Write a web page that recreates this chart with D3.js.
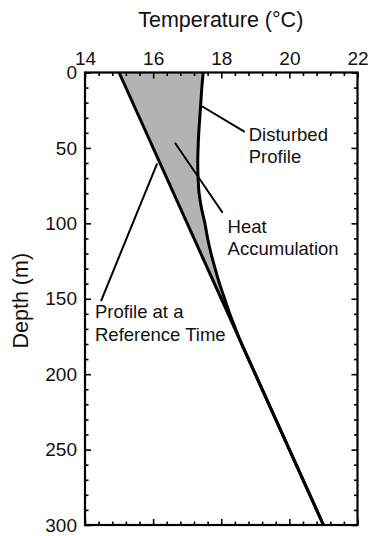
<!DOCTYPE html>
<html>
<head>
<meta charset="utf-8">
<script src="https://cdn.jsdelivr.net/npm/d3@7"></script>
<style>
  html, body { margin: 0; padding: 0; background: #fff; }
  svg { display: block; font-family: "Liberation Sans", Arial, Helvetica, sans-serif; }
</style>
</head>
<body>
<svg id="chart" width="371" height="536"></svg>
<script>
// Depth (m) at which each profile temperature is sampled
const depths = [0, 10, 20, 30, 40, 50, 60, 70, 80, 90, 100, 110, 120, 130, 140, 150, 160, 170, 180, 190, 200, 250, 300];
// Present-day (disturbed) temperature profile, °C
const disturbedTemps = [17.47, 17.43, 17.40, 17.37, 17.34, 17.32, 17.31, 17.32, 17.35, 17.42, 17.52, 17.60, 17.70, 17.82, 17.95, 18.10, 18.25, 18.42, 18.60, 18.80, 19.00, 20.00, 21.00];
// Steady-state profile at the reference time: linear geotherm
const referenceDepths = [0, 300];
const referenceTemps = [15.0, 21.0];

// Axis ticks
const tempMajorTicks = [14, 16, 18, 20, 22];
const tempMinorTicks = [14.4, 14.8, 15.2, 15.6, 16.4, 16.8, 17.2, 17.6, 18.4, 18.8, 19.2, 19.6, 20.4, 20.8, 21.2, 21.6];
const depthMajorTicks = [0, 50, 100, 150, 200, 250, 300];
const depthMinorTicks = [10, 20, 30, 40, 60, 70, 80, 90, 110, 120, 130, 140, 160, 170, 180, 190, 210, 220, 230, 240, 260, 270, 280, 290];

// Callout labels: text lines, leader line start/end in data units (°C, m)
const calloutText = [["Disturbed", "Profile"], ["Heat", "Accumulation"], ["Profile at a", "Reference Time"]];
const calloutFrom = [[17.42, 22.2], [16.64, 46.6], [16.12, 60.2]];
const calloutTo = [[18.69, 39.3], [18.04, 93.0], [14.47, 151.5]];

const svg = d3.select("#chart");
const plotLeft = 85, plotRight = 357.5, plotTop = 72.5, plotBottom = 525;

const x = d3.scaleLinear().domain([14, 22]).range([plotLeft, plotRight]);
const y = d3.scaleLinear().domain([0, 300]).range([plotTop, plotBottom]);

const disturbed = depths.map((d, i) => ({ depth: d, temp: disturbedTemps[i] }));
const refTempAt = d3.scaleLinear().domain(referenceDepths).range(referenceTemps);

// Shaded region between reference and disturbed profiles
const area = d3.area()
  .curve(d3.curveMonotoneY)
  .y(d => y(d.depth))
  .x0(d => x(refTempAt(d.depth)))
  .x1(d => x(d.temp));

svg.append("path")
  .datum(disturbed)
  .attr("d", area)
  .attr("fill", "#b3b3b3")
  .attr("stroke", "none");

// Reference profile
svg.append("path")
  .datum(referenceDepths.map((d, i) => ({ depth: d, temp: referenceTemps[i] })))
  .attr("d", d3.line().x(d => x(d.temp)).y(d => y(d.depth)))
  .attr("fill", "none")
  .attr("stroke", "#000")
  .attr("stroke-width", 3);

// Disturbed profile
svg.append("path")
  .datum(disturbed)
  .attr("d", d3.line().curve(d3.curveMonotoneY).x(d => x(d.temp)).y(d => y(d.depth)))
  .attr("fill", "none")
  .attr("stroke", "#000")
  .attr("stroke-width", 3);

// Axes with inward ticks on all four sides
function styleAxis(g) {
  g.select(".domain").remove();
  g.selectAll(".tick line").attr("stroke", "#000").attr("stroke-width", 1.6);
  g.selectAll(".tick text").attr("fill", "#111");
}

const tickFont = "19px";

const topMajor = svg.append("g").attr("transform", `translate(0,${plotTop})`)
  .call(d3.axisTop(x).tickValues(tempMajorTicks).tickSize(-6).tickPadding(8).tickFormat(d3.format("d")));
topMajor.selectAll("text").attr("font-size", tickFont);
styleAxis(topMajor);

const topMinor = svg.append("g").attr("transform", `translate(0,${plotTop})`)
  .call(d3.axisTop(x).tickValues(tempMinorTicks).tickSize(-3.5).tickFormat(""));
styleAxis(topMinor);

const bottomMajor = svg.append("g").attr("transform", `translate(0,${plotBottom})`)
  .call(d3.axisBottom(x).tickValues(tempMajorTicks).tickSize(-6).tickFormat(""));
styleAxis(bottomMajor);
const bottomMinor = svg.append("g").attr("transform", `translate(0,${plotBottom})`)
  .call(d3.axisBottom(x).tickValues(tempMinorTicks).tickSize(-3.5).tickFormat(""));
styleAxis(bottomMinor);

const leftMajor = svg.append("g").attr("transform", `translate(${plotLeft},0)`)
  .call(d3.axisLeft(y).tickValues(depthMajorTicks).tickSize(-6).tickPadding(8).tickFormat(d3.format("d")));
leftMajor.selectAll("text").attr("font-size", tickFont);
styleAxis(leftMajor);
const leftMinor = svg.append("g").attr("transform", `translate(${plotLeft},0)`)
  .call(d3.axisLeft(y).tickValues(depthMinorTicks).tickSize(-3.5).tickFormat(""));
styleAxis(leftMinor);

const rightMajor = svg.append("g").attr("transform", `translate(${plotRight},0)`)
  .call(d3.axisRight(y).tickValues(depthMajorTicks).tickSize(-6).tickFormat(""));
styleAxis(rightMajor);
const rightMinor = svg.append("g").attr("transform", `translate(${plotRight},0)`)
  .call(d3.axisRight(y).tickValues(depthMinorTicks).tickSize(-3.5).tickFormat(""));
styleAxis(rightMinor);

// Plot frame
svg.append("rect")
  .attr("x", plotLeft).attr("y", plotTop)
  .attr("width", plotRight - plotLeft).attr("height", plotBottom - plotTop)
  .attr("fill", "none").attr("stroke", "#000").attr("stroke-width", 2.2);

// Axis titles
svg.append("text")
  .attr("x", (plotLeft + plotRight) / 2 - 0.5).attr("y", 27)
  .attr("text-anchor", "middle")
  .attr("font-size", "21.5px")
  .attr("fill", "#111")
  .text("Temperature (°C)");

svg.append("text")
  .attr("transform", `translate(28,${(plotTop + plotBottom) / 2 + 2}) rotate(-90)`)
  .attr("text-anchor", "middle")
  .attr("font-size", "21.5px")
  .attr("fill", "#111")
  .text("Depth (m)");

// Callouts
const labelOffsets = [[4, 9], [5, 20], [-6, 17]];
calloutText.forEach((lines, i) => {
  const [t0, d0] = calloutFrom[i];
  const [t1, d1] = calloutTo[i];
  svg.append("line")
    .attr("x1", x(t0)).attr("y1", y(d0))
    .attr("x2", x(t1)).attr("y2", y(d1))
    .attr("stroke", "#000").attr("stroke-width", 2);
  const tx = x(t1) + labelOffsets[i][0];
  const ty = y(d1) + labelOffsets[i][1];
  const text = svg.append("text").attr("font-size", "18.5px").attr("fill", "#111");
  lines.forEach((s, j) => {
    text.append("tspan").attr("x", tx).attr("y", ty + j * 22.5).text(s);
  });
});
</script>
</body>
</html>
